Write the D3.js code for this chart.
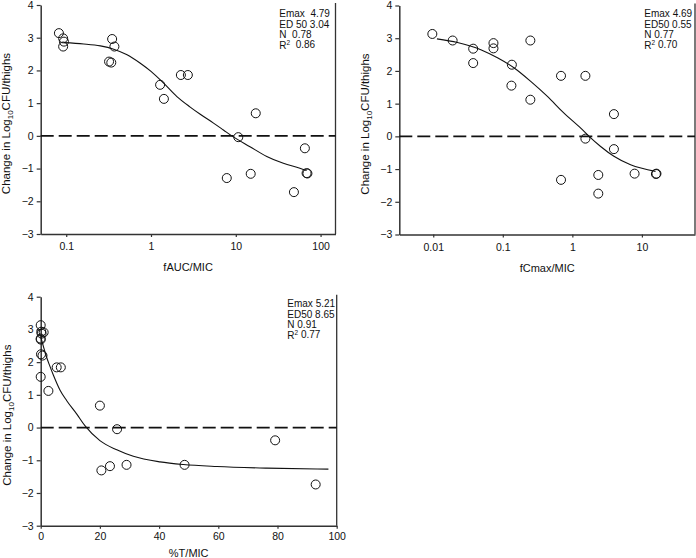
<!DOCTYPE html>
<html><head><meta charset="utf-8">
<script src="https://cdn.jsdelivr.net/npm/d3@7"></script>
<style>
body{margin:0;background:#fff;}
text{font-family:"Liberation Sans",Arial,sans-serif;fill:#111;}
</style></head>
<body><svg id="c" width="696" height="558"></svg>
<script>
// ---------- data ----------
const yTicks = [-3,-2,-1,0,1,2,3,4];

// Panel 1: fAUC/MIC
const aucTicks = [0.1,1,10,100];
const aucX = [0.082,0.092,0.094,0.092,0.348,0.37,0.32,0.34,1.28,1.42,2.25,2.72,17.2,10.7,7.83,15.0,65.3,68.4,70,48.5];
const aucY = [3.14,2.98,2.88,2.73,2.96,2.73,2.27,2.24,1.56,1.13,1.86,1.86,0.69,-0.04,-1.29,-1.16,-0.38,-1.14,-1.15,-1.72];
const aucCurveX = [0.094,0.161,0.253,0.363,0.522,0.748,1.0,1.41,2.02,2.90,3.81,5.46,7.14,8.97,14.7,23.2,36.4,57,68.4];
const aucCurveY = [2.85,2.81,2.75,2.65,2.48,2.22,1.97,1.61,1.20,0.88,0.66,0.39,0.18,0.0,-0.33,-0.63,-0.84,-0.99,-1.06];
const aucLegend = ["Emax  4.79","ED 50 3.04","N  0.78","R|  0.86"];

// Panel 2: fCmax/MIC
const cmaxTicks = [0.01,0.1,1,10];
const cmaxX = [0.0097,0.019,0.0375,0.0375,0.0734,0.0734,0.135,0.133,0.249,0.249,0.687,0.687,1.54,1.54,3.96,3.96,2.36,2.36,7.85,15.9,16.2];
const cmaxY = [3.13,2.93,2.68,2.24,2.85,2.69,2.19,1.55,2.93,1.12,1.85,-1.33,1.85,-0.07,0.68,-0.39,-1.18,-1.75,-1.14,-1.15,-1.14];
const cmaxCurveX = [0.0113,0.0223,0.0483,0.0838,0.146,0.252,0.438,0.759,1.32,1.74,2.55,3.96,6.87,15.7];
const cmaxCurveY = [2.98,2.87,2.65,2.40,2.09,1.68,1.22,0.71,0.25,0,-0.31,-0.61,-0.87,-1.07];
const cmaxLegend = ["Emax 4.69","ED50 0.55","N 0.77","R| 0.70"];

// Panel 3: %T/MIC
const tTicks = [0,20,40,60,80,100];
const tX = [0,0.2,1.0,0.3,0,0,0.1,0.6,0,2.6,5.4,6.8,20,25.8,20.5,23.4,29,48.6,79.2,92.9];
const tY = [3.13,2.93,2.91,2.87,2.72,2.69,2.24,2.20,1.55,1.12,1.84,1.84,0.67,-0.05,-1.31,-1.18,-1.14,-1.14,-0.39,-1.74];
const tCurveX = [0,1,2,3,4.3,6.5,8.8,12.2,15,20,25.7,31.3,40.3,48.2,59.5,76.4,97.2];
const tCurveY = [2.78,2.45,2.15,1.9,1.6,1.15,0.82,0.41,0.05,-0.4,-0.68,-0.88,-1.05,-1.13,-1.19,-1.24,-1.27];
const tLegend = ["Emax 5.21","ED50 8.65","N 0.91","R| 0.77"];

// ---------- drawing ----------
const svg = d3.select("#c");

function panel(o){
  const x = o.log ? d3.scaleLog().domain(o.xdom).range([o.l,o.r])
                  : d3.scaleLinear().domain(o.xdom).range([o.l,o.r]);
  const y = d3.scaleLinear().domain([-3,4]).range([o.b,o.t]);
  const g = svg.append("g");

  // right border
  g.append("line").attr("x1",o.r).attr("x2",o.r).attr("y1",o.t-2).attr("y2",o.b)
    .attr("stroke","#333").attr("stroke-width",1.3);

  // y axis
  const ya = g.append("g").attr("transform",`translate(${o.l},0)`)
    .call(d3.axisLeft(y).tickValues(yTicks).tickFormat(d3.format("d")).tickSize(4).tickPadding(3).tickSizeOuter(0));
  // x axis
  const xa = g.append("g").attr("transform",`translate(0,${o.b})`)
    .call(d3.axisBottom(x).tickValues(o.ticks).tickFormat(d=>String(d)).tickSize(3).tickPadding(o.tp).tickSizeOuter(0));
  [ya,xa].forEach(a=>{
    a.select(".domain").attr("stroke","#333").attr("stroke-width",1.5);
    a.selectAll(".tick line").attr("stroke","#333").attr("stroke-width",1.2);
    a.selectAll(".tick text").attr("font-size","10.5px").attr("fill","#111")
      .style("font-family","'Liberation Sans',Arial,sans-serif");
  });

  // zero dashed line
  g.append("line").attr("x1",o.l).attr("x2",o.r).attr("y1",y(0)).attr("y2",y(0))
    .attr("stroke","#111").attr("stroke-width",1.8).attr("stroke-dasharray","13,5");

  // fitted curve
  const cd = o.cx.map((v,i)=>[v,o.cy[i]]);
  g.append("path").datum(cd)
    .attr("d", d3.line().x(d=>x(d[0])).y(d=>y(d[1])).curve(d3.curveMonotoneX))
    .attr("fill","none").attr("stroke","#111").attr("stroke-width",1.1);

  // points
  const pd = o.px.map((v,i)=>[v,o.py[i]]);
  g.selectAll("circle.pt").data(pd).join("circle").attr("class","pt")
    .attr("cx",d=>x(d[0])).attr("cy",d=>y(d[1])).attr("r",4.5)
    .attr("fill","none").attr("stroke","#111").attr("stroke-width",1);

  // x title
  g.append("text").attr("x",(o.l+o.r)/2).attr("y",o.xty).attr("text-anchor","middle")
    .attr("font-size","11px").text(o.xt);

  // y title
  const yt = g.append("text").attr("transform",`translate(${o.ytx},${(o.t+o.b)/2+4}) rotate(-90)`)
    .attr("text-anchor","middle").attr("dy","0.35em").attr("font-size","11.5px");
  yt.append("tspan").text("Change in Log");
  yt.append("tspan").attr("font-size","8px").attr("dy","0.35em").text("10");
  yt.append("tspan").attr("dy","-0.25em").text("CFU/thighs");

  // legend
  o.leg.forEach((s,i)=>{
    const t = g.append("text").attr("x",o.lx).attr("y",o.ly+i*10.5)
      .attr("font-size","10px").style("white-space","pre");
    if(s.startsWith("R|")){
      t.append("tspan").text("R");
      t.append("tspan").attr("font-size","6.5px").attr("dy","-0.5em").text("2");
      t.append("tspan").attr("dy","0.32em").text(s.slice(2));
    } else t.text(s);
  });
}

panel({log:true, xdom:[0.05,150], l:40.7, r:335.5, t:5, b:234, ticks:aucTicks, tp:6,
  px:aucX, py:aucY, cx:aucCurveX, cy:aucCurveY, xt:"fAUC/MIC", xty:271, ytx:6,
  leg:aucLegend, lx:279.3, ly:17});
panel({log:true, xdom:[0.00325,58], l:399.3, r:695, t:5.5, b:234.5, ticks:cmaxTicks, tp:6,
  px:cmaxX, py:cmaxY, cx:cmaxCurveX, cy:cmaxCurveY, xt:"fCmax/MIC", xty:272, ytx:365,
  leg:cmaxLegend, lx:644.3, ly:17});
panel({log:false, xdom:[0,100], l:40.7, r:336.7, t:296.7, b:525.7, ticks:tTicks, tp:4,
  px:tX, py:tY, cx:tCurveX, cy:tCurveY, xt:"%T/MIC", xty:556.5, ytx:7,
  leg:tLegend, lx:287.3, ly:307});
</script></body></html>
